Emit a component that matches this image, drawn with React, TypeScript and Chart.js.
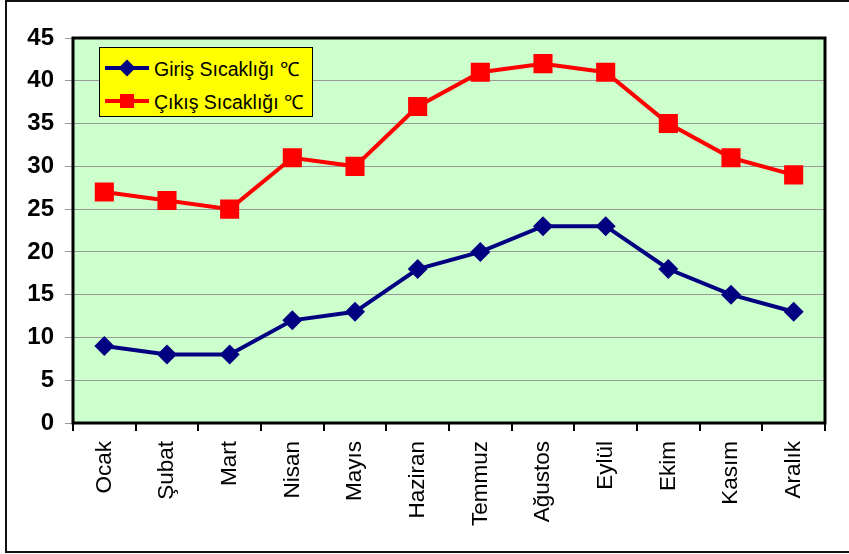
import React, { useEffect, useRef } from "react";
import { Chart, registerables } from "chart.js";

Chart.register(...registerables);

const months = ["Ocak", "Şubat", "Mart", "Nisan", "Mayıs", "Haziran", "Temmuz", "Ağustos", "Eylül", "Ekim", "Kasım", "Aralık"];
const girisValues = [9, 8, 8, 12, 13, 18, 20, 23, 23, 18, 15, 13];
const cikisValues = [27, 26, 25, 31, 30, 37, 41, 42, 41, 35, 31, 29];
const girisLabel = "Giriş Sıcaklığı ℃";
const cikisLabel = "Çıkış Sıcaklığı ℃";
const yMin = 0;
const yMax = 45;
const yStep = 5;

const BLUE = "#000080";
const RED = "#ff0000";
const FONT = '"Liberation Sans", Arial, sans-serif';

const plotPlugin = {
  id: "plotArea",
  beforeDraw(chart: any) {
    const { ctx, chartArea: a } = chart;
    ctx.save();
    ctx.fillStyle = "#ccffcc";
    ctx.fillRect(a.left, a.top, a.right - a.left, a.bottom - a.top);
    ctx.restore();
  },
  beforeDatasetsDraw(chart: any) {
    const { ctx, chartArea: a } = chart;
    ctx.save();
    ctx.strokeStyle = "#000";
    ctx.lineWidth = 3;
    ctx.strokeRect(a.left, a.top, a.right - a.left, a.bottom - a.top);
    ctx.restore();
  },
};

export default function App() {
  const ref = useRef<HTMLCanvasElement>(null);
  useEffect(() => {
    if (!ref.current) return;
    const chart = new Chart(ref.current, {
      type: "line",
      data: {
        labels: months,
        datasets: [
          {
            label: girisLabel,
            data: girisValues,
            borderColor: BLUE,
            backgroundColor: BLUE,
            borderWidth: 4,
            pointStyle: "rectRot",
            pointRadius: 10,
            pointBorderWidth: 0,
            pointBackgroundColor: BLUE,
            tension: 0,
          },
          {
            label: cikisLabel,
            data: cikisValues,
            borderColor: RED,
            backgroundColor: RED,
            borderWidth: 4,
            pointStyle: "rect",
            pointRadius: 13.5,
            pointBorderWidth: 0,
            pointBackgroundColor: RED,
            tension: 0,
          },
        ],
      },
      options: {
        animation: false,
        responsive: true,
        maintainAspectRatio: false,
        layout: { padding: { left: 0, top: 38, right: 24, bottom: 11 } },
        plugins: { legend: { display: false }, tooltip: { enabled: false } },
        scales: {
          x: {
            offset: true,
            afterFit: (s: any) => { s.height = 120; },
            grid: { drawOnChartArea: false, drawTicks: true, tickLength: 8, tickColor: "#000", lineWidth: 2, offset: true },
            border: { display: false },
            ticks: { minRotation: 90, maxRotation: 90, autoSkip: false, padding: 10, color: "#000", font: { family: FONT, size: 22.5 } },
          },
          y: {
            min: yMin,
            max: yMax,
            afterFit: (s: any) => { s.width = 73; },
            grid: { color: "#999", tickColor: "#999", tickLength: 8, lineWidth: 1 },
            border: { display: false },
            ticks: { stepSize: yStep, padding: 11, color: "#000", font: { family: FONT, size: 24, weight: "bold" } },
          },
        },
      },
      plugins: [plotPlugin],
    });
    return () => chart.destroy();
  }, []);

  const legendRows = [
    { label: girisLabel, color: BLUE, shape: "diamond" },
    { label: cikisLabel, color: RED, shape: "square" },
  ];

  return (
    <div style={{ position: "fixed", left: 0, top: 0, width: 849, height: 554, background: "#fff", overflow: "hidden" }}>
      <div style={{ position: "absolute", left: 5, top: 0, width: 900, height: 549, border: "2px solid #111" }} />
      <div style={{ position: "absolute", left: 0, top: 0, width: 849, height: 554 }}>
        <canvas ref={ref} />
      </div>
      <div
        style={{
          position: "absolute",
          left: 99,
          top: 47,
          width: 212,
          height: 68,
          background: "#ffff00",
          border: "1px solid #000",
          font: `19.5px ${FONT}`,
          color: "#000",
        }}
      >
        {legendRows.map((r, i) => (
          <div
            key={i}
            style={{ position: "absolute", left: 0, top: i === 0 ? 7 : 40, height: 26, display: "flex", alignItems: "center", whiteSpace: "nowrap" }}
          >
            <div style={{ position: "relative", width: 44, marginLeft: 5, height: 4, background: r.color }}>
              <div
                style={{
                  position: "absolute",
                  left: r.shape === "diamond" ? 16 : 15,
                  top: r.shape === "diamond" ? -4 : -5,
                  width: r.shape === "diamond" ? 12 : 14,
                  height: r.shape === "diamond" ? 12 : 14,
                  background: r.color,
                  transform: r.shape === "diamond" ? "rotate(45deg)" : "none",
                }}
              />
            </div>
            <span style={{ marginLeft: 5 }}>{r.label}</span>
          </div>
        ))}
      </div>
    </div>
  );
}
